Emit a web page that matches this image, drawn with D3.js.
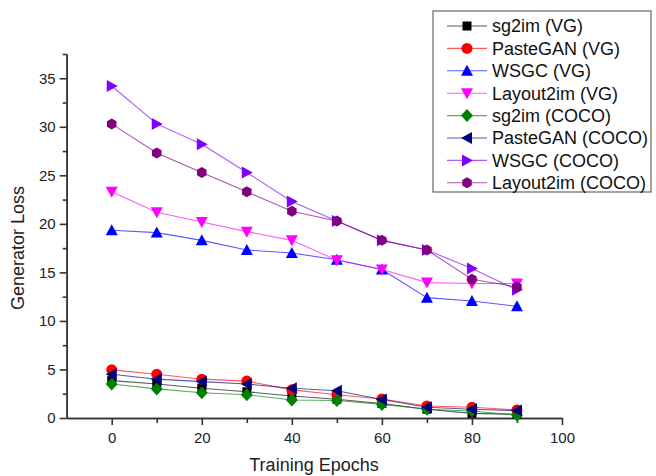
<!DOCTYPE html>
<html>
<head>
<meta charset="utf-8">
<script src="https://cdn.jsdelivr.net/npm/d3@7"></script>
<style>
  body { margin: 0; background: #fff; }
  svg { font-family: "Liberation Sans", Arial, sans-serif; }
  .axis path, .axis line { stroke: #333; stroke-width: 1.6; }
  .axis text { font-size: 15px; fill: #222; }
</style>
</head>
<body>
<svg width="656" height="476"></svg>
<script>
var epochs = [0, 10, 20, 30, 40, 50, 60, 70, 80, 90];
var seriesNames = ['sg2im (VG)', 'PasteGAN (VG)', 'WSGC (VG)', 'Layout2im (VG)',
                   'sg2im (COCO)', 'PasteGAN (COCO)', 'WSGC (COCO)', 'Layout2im (COCO)'];
var sg2imVG       = [3.85, 3.5, 3.07, 2.7, 2.27, 1.93, 1.5, 0.9, 0.48, 0.38];
var pasteganVG    = [4.96, 4.5, 4.0, 3.8, 2.9, 2.4, 1.96, 1.24, 1.1, 0.83];
var wsgcVG        = [19.35, 19.1, 18.3, 17.3, 17.0, 16.3, 15.3, 12.4, 12.05, 11.5];
var layout2imVG   = [23.3, 21.2, 20.2, 19.2, 18.3, 16.25, 15.3, 13.95, 13.85, 13.85];
var sg2imCOCO     = [3.5, 3.0, 2.6, 2.4, 1.86, 1.8, 1.4, 0.9, 0.72, 0.3];
var pasteganCOCO  = [4.5, 4.0, 3.75, 3.5, 3.07, 2.8, 1.9, 1.1, 0.9, 0.76];
var wsgcCOCO      = [34.2, 30.3, 28.2, 25.3, 22.3, 20.3, 18.3, 17.3, 15.4, 13.2];
var layout2imCOCO = [30.3, 27.3, 25.3, 23.3, 21.3, 20.3, 18.3, 17.3, 14.3, 13.5];
var xMajorTicks = [0, 20, 40, 60, 80, 100];
var yMajorTicks = [0, 5, 10, 15, 20, 25, 30, 35];

var allValues = [sg2imVG, pasteganVG, wsgcVG, layout2imVG, sg2imCOCO, pasteganCOCO, wsgcCOCO, layout2imCOCO];
var colors = ['#000000', '#ff0000', '#0000ff', '#ff00ff', '#008000', '#000080', '#8000ff', '#800080'];
var shapes = ['square', 'circle', 'up', 'down', 'diamond', 'left', 'right', 'hex'];

var svg = d3.select('svg');
var x = d3.scaleLinear().domain([-10, 100]).range([66.7, 562]);
var y = d3.scaleLinear().domain([0, 37.5]).range([418, 54]);

// markers
function markerPath(shape) {
   var s = 5.5;
   switch (shape) {
      case 'square': return 'M-4.5,-4.5H4.5V4.5H-4.5Z';
      case 'circle': return d3.symbol().type(d3.symbolCircle).size(95)();
      case 'up': return 'M0,-6L6,5L-6,5Z';
      case 'down': return 'M0,6L6,-5L-6,-5Z';
      case 'left': return 'M-6,0L5,-6L5,6Z';
      case 'right': return 'M6,0L-5,-6L-5,6Z';
      case 'diamond': return 'M0,-6.5L6,0L0,6.5L-6,0Z';
      case 'hex':
         var p = [];
         for (var i = 0; i < 6; i++) {
            var a = Math.PI / 6 + i * Math.PI / 3;
            p.push((s * Math.cos(a)).toFixed(2) + ',' + (s * Math.sin(a)).toFixed(2));
         }
         return 'M' + p.join('L') + 'Z';
   }
}

// axes
var yMinor = d3.range(2.5, 38, 5);
svg.append('g').attr('class', 'axis')
   .attr('transform', 'translate(' + x(-10) + ',0)')
   .call(d3.axisLeft(y).tickValues(yMinor).tickSize(4).tickFormat('').tickSizeOuter(0));
svg.append('g').attr('class', 'axis')
   .attr('transform', 'translate(' + x(-10) + ',0)')
   .call(d3.axisLeft(y).tickValues(yMajorTicks).tickSize(7).tickPadding(4).tickSizeOuter(0));

svg.append('g').attr('class', 'axis')
   .attr('transform', 'translate(0,' + y(0) + ')')
   .call(d3.axisBottom(x).tickValues([10, 30, 50, 70, 90]).tickSize(5).tickFormat('').tickSizeOuter(0));
svg.append('g').attr('class', 'axis')
   .attr('transform', 'translate(0,' + y(0) + ')')
   .call(d3.axisBottom(x).tickValues(xMajorTicks).tickSize(7).tickPadding(7).tickSizeOuter(0));

svg.append('text')
   .attr('transform', 'translate(24,248) rotate(-90)')
   .attr('text-anchor', 'middle')
   .style('font-size', '18px').style('fill', '#222')
   .text('Generator Loss');
svg.append('text')
   .attr('x', 314).attr('y', 471)
   .attr('text-anchor', 'middle')
   .style('font-size', '18px').style('fill', '#222')
   .text('Training Epochs');

// series
var line = d3.line()
   .x(function(d, i) { return x(epochs[i]); })
   .y(function(d) { return y(d); });

var plot = svg.append('g').classed('series', true);
for (var k = 0; k < allValues.length; k++) {
   var g = plot.append('g');
   g.append('path')
      .attr('d', line(allValues[k]))
      .attr('fill', 'none')
      .attr('stroke', colors[k])
      .attr('stroke-opacity', 0.65)
      .attr('stroke-width', 1.1);
   g.selectAll('path.m')
      .data(allValues[k])
      .enter()
      .append('path')
      .classed('m', true)
      .attr('d', markerPath(shapes[k]))
      .attr('transform', function(d, i) { return 'translate(' + x(epochs[i]) + ',' + y(d) + ')'; })
      .attr('fill', colors[k]);
}

// legend
var legend = svg.append('g').classed('legend', true);
legend.append('rect')
   .attr('x', 433).attr('y', 11).attr('width', 218).attr('height', 181)
   .attr('fill', '#fff').attr('stroke', '#666').attr('stroke-width', 1.2);
for (var k = 0; k < seriesNames.length; k++) {
   var cy = 26 + k * 22.4;
   legend.append('line')
      .attr('x1', 447).attr('x2', 487).attr('y1', cy).attr('y2', cy)
      .attr('stroke', colors[k]).attr('stroke-opacity', 0.65).attr('stroke-width', 1.1);
   legend.append('path')
      .attr('d', markerPath(shapes[k]))
      .attr('transform', 'translate(467,' + cy + ')')
      .attr('fill', colors[k]);
   legend.append('text')
      .attr('x', 492).attr('y', cy).attr('dy', '0.36em')
      .style('font-size', '18px').style('fill', '#111')
      .text(seriesNames[k]);
}
</script>
</body>
</html>
